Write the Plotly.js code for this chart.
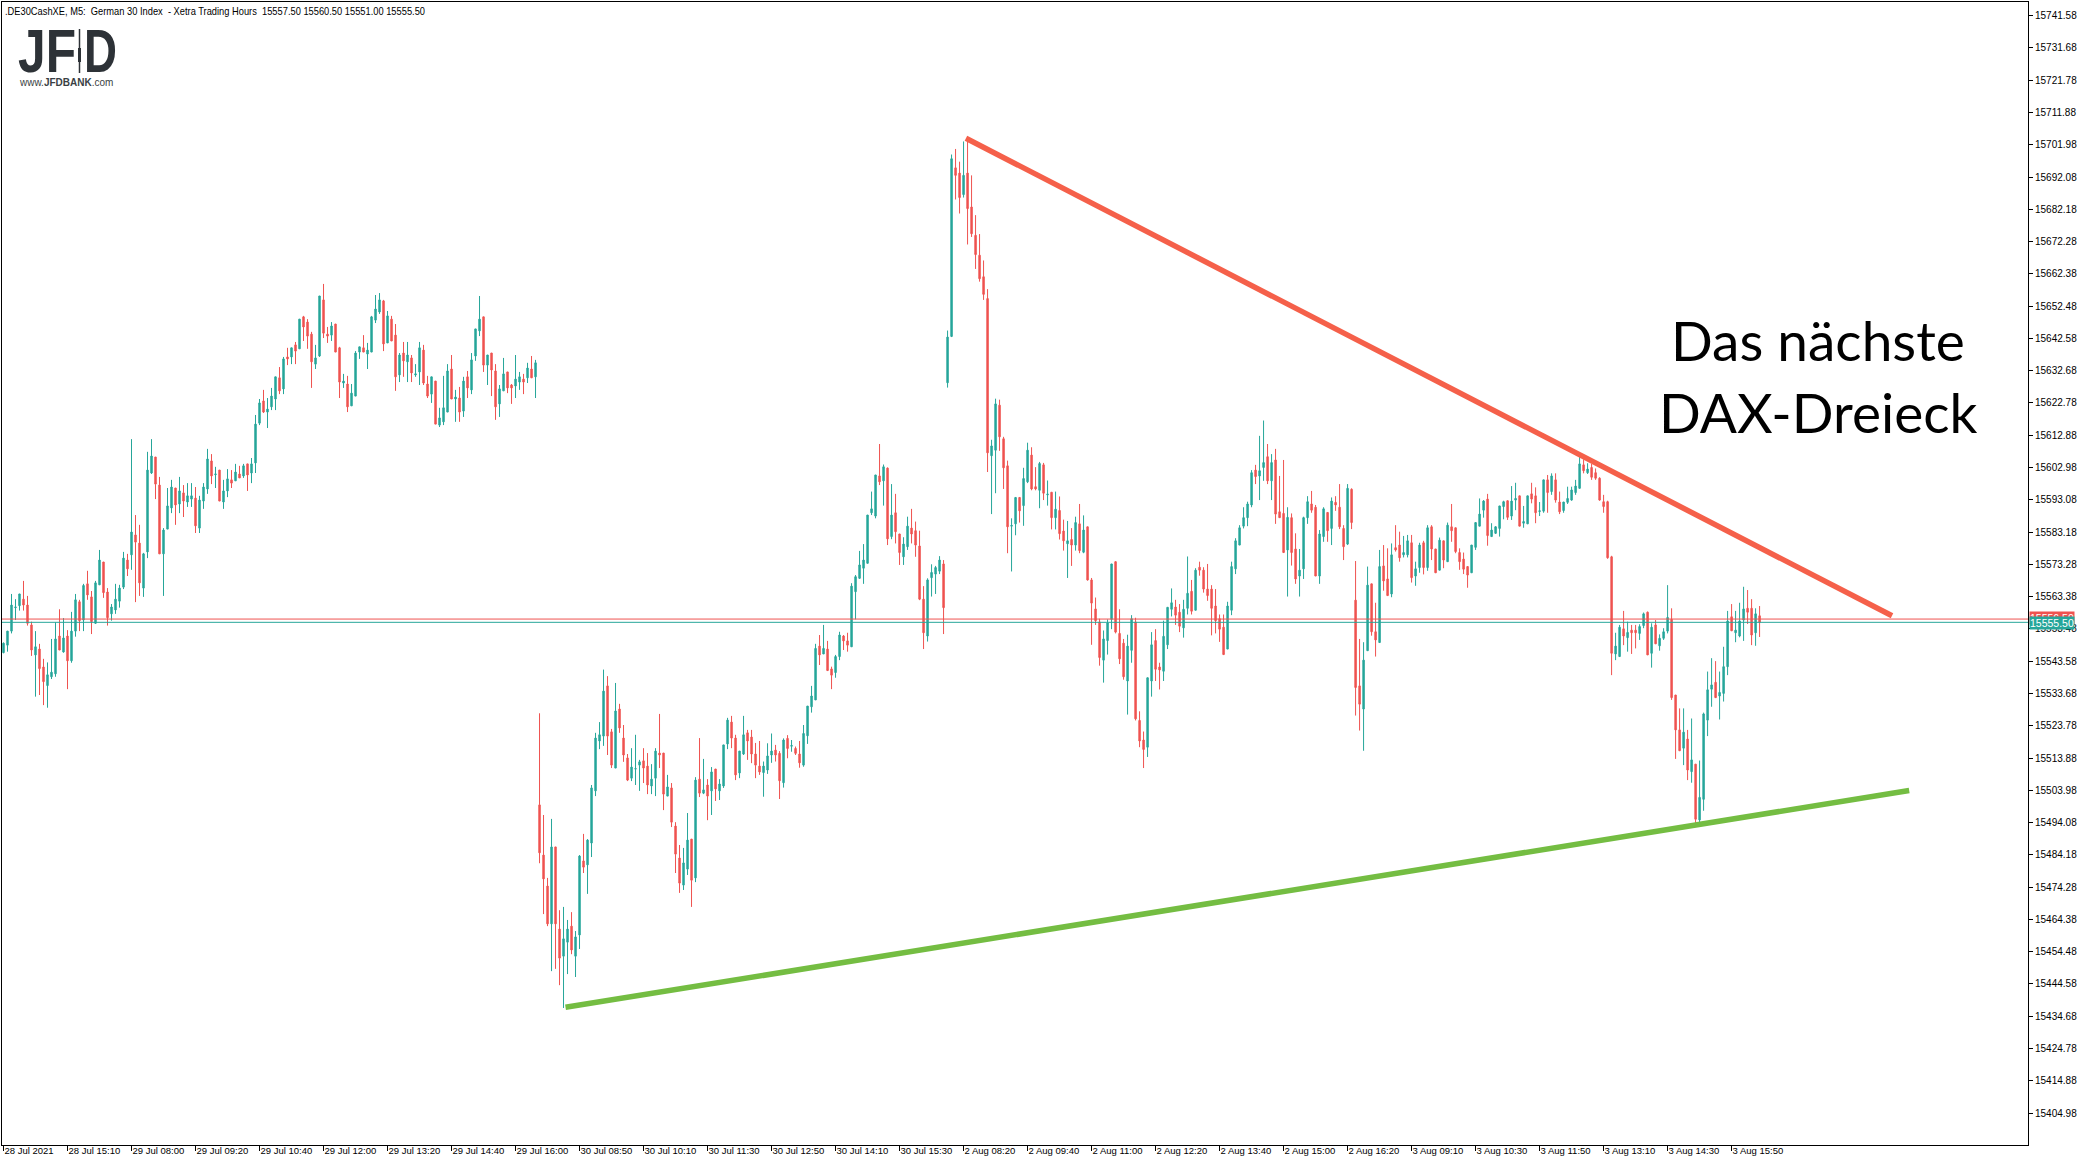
<!DOCTYPE html>
<html>
<head>
<meta charset="utf-8">
<script src="https://cdn.plot.ly/plotly-3.0.1.min.js"></script>
<style>
html,body{margin:0;padding:0;background:#ffffff;}
#chart{width:2085px;height:1162px;}
</style>
</head>
<body>
<div id="chart"></div>
<script>
// ---------------- DATA (5-minute bars, .DE30CashXE M5, 28 Jul 13:50 – 3 Aug 16:25) ----------------
const openP = [
15546.2,15548.5,15552.8,15560.0,15560.6,15562.6,15560.8,15554.7,15545.5,15547.3,
15541.8,15536.1,15538.8,15539.7,15551.3,15546.4,15551.3,15543.7,15552.8,15561.8,
15556.2,15567.3,15563.3,15555.2,15567.0,15574.0,15564.8,15558.1,15559.3,15562.0,
15566.3,15574.6,15576.2,15582.3,15579.8,15566.0,15577.1,15601.3,15606.2,15597.6,
15576.5,15584.1,15590.6,15596.7,15591.8,15595.2,15592.4,15593.3,15593.6,15584.4,
15592.7,15596.4,15605.0,15600.8,15602.2,15592.4,15595.8,15599.2,15598.9,15601.0,
15600.4,15604.1,15601.3,15604.4,15616.6,15623.4,15620.0,15621.6,15624.0,15630.5,
15627.1,15636.9,15636.9,15640.6,15639.4,15649.2,15647.6,15643.9,15634.7,15637.2,
15654.4,15643.9,15643.6,15647.0,15639.7,15628.9,15628.6,15621.9,15624.9,15638.4,
15639.7,15637.8,15638.4,15648.2,15650.7,15654.1,15641.2,15648.5,15643.6,15631.4,
15638.1,15635.4,15636.6,15631.4,15632.3,15639.0,15628.6,15625.5,15629.5,15616.0,
15617.0,15620.0,15633.2,15624.0,15624.3,15620.3,15630.8,15626.8,15637.2,15644.9,
15649.2,15634.4,15638.1,15632.6,15622.5,15626.5,15632.3,15628.3,15628.0,15629.2,
15630.1,15630.5,15633.2,15630.8,
15499.5,15484.1,15474.6,15463.0,15486.6,15461.4,15453.1,15457.4,15462.3,15453.1,
15459.6,15482.3,15481.1,15487.8,15503.8,15519.1,15520.6,15536.0,15521.9,15510.8,
15528.9,15520.0,15513.9,15507.7,15510.5,15511.7,15513.0,15511.4,15505.3,15507.7,
15515.4,15515.4,15502.2,15504.7,15493.0,15483.2,15474.9,15479.8,15489.0,15477.1,
15507.4,15503.1,15505.6,15503.8,15510.5,15503.8,15505.3,15518.2,15524.9,15520.0,
15509.3,15515.1,15521.6,15520.3,15515.1,15511.4,
15509.4,15510.2,15514.8,15516.3,15515.3,15506.3,15519.9,15517.5,15516.8,15515.1,
15511.7,15520.7,15529.6,15531.7,15548.2,15545.8,15547.3,15541.2,15540.1,15545.0,
15551.3,15549.8,15548.0,15564.9,15569.0,15572.1,15573.6,15589.1,15588.1,15600.4,
15598.9,15602.8,15581.8,15589.1,15582.6,15575.6,15578.7,15584.4,15583.6,15578.9,
15562.6,15551.3,15569.2,15570.3,15571.2,15573.4,
15629.0,15643.2,15694.9,15693.3,15686.7,15693.3,15682.9,15674.2,15668.1,15661.5,
15654.8,15606.6,15608.3,15622.1,15611.8,15603.5,15585.0,15585.7,15593.8,15591.3,
15598.6,15606.8,15597.1,15596.0,15603.8,15594.6,15595.4,15587.6,15589.8,15583.5,
15579.6,15580.9,15579.2,15585.7,15577.0,15584.8,15568.5,15559.6,15555.6,15543.9,
15549.9,15556.4,15574.1,15552.1,15549.1,15537.5,15546.9,15555.6,15525.4,15519.4,
15517.2,15537.5,15549.9,15541.8,15540.5,15548.6,15559.5,15560.2,15558.6,15553.8,
15559.8,15565.0,15559.2,15572.4,15571.5,15565.7,15565.7,15560.5,15556.6,15554.0,
15547.3,15559.2,
15571.9,15579.2,15585.0,15587.6,15591.5,15602.2,15600.4,15603.0,15606.3,15598.9,
15605.3,15589.4,15588.9,15577.7,15587.6,15578.0,15569.7,15571.9,15587.6,15591.8,
15590.8,15569.7,15581.8,15589.2,15584.3,15592.3,15590.8,15584.3,15579.5,15596.3,
15562.3,15536.0,15528.9,15546.8,15567.3,15552.6,15549.3,15572.8,15568.8,15564.2,
15578.4,15579.2,15576.2,15576.2,15579.9,15569.7,15572.3,15579.9,15572.3,15584.8,
15578.0,15571.5,15580.5,15574.1,15584.8,15584.5,15576.9,15574.9,15572.6,15570.7,
15578.5,15585.0,15589.9,15593.3,15581.8,15582.8,15584.3,
15591.0,15592.8,15588.1,15593.0,15594.3,15585.9,15585.7,15594.9,15594.3,15589.5,
15589.6,15599.2,15595.6,15599.2,15592.4,15589.8,15592.3,15593.0,15595.3,15596.6,
15603.8,15601.4,15603.0,15601.4,15599.7,15592.5,15592.5,15575.6,15545.8,15545.0,
15553.5,15550.8,15553.1,15553.1,15552.1,15554.5,15558.6,15546.0,15554.7,15548.3,
15550.6,15552.8,15556.4,15533.2,15522.5,15516.9,15519.7,15509.7,15512.0,15494.9,
15501.2,15525.5,15535.0,15537.1,15532.9,15533.7,15541.9,15557.2,15552.3,15551.3,
15556.2,15559.8,15559.8,15552.3,15557.5
];
const highP = [
15549.3,15552.8,15564.2,15562.6,15564.2,15568.2,15563.6,15555.7,15552.8,15548.9,
15544.3,15543.2,15550.4,15555.5,15559.5,15556.8,15553.1,15558.7,15564.2,15562.4,
15567.3,15571.3,15565.1,15568.2,15577.7,15574.0,15566.0,15561.1,15567.3,15567.0,
15577.1,15576.5,15611.7,15588.4,15585.4,15576.8,15607.8,15611.7,15606.2,15600.1,
15584.4,15596.7,15599.2,15596.7,15600.1,15597.6,15598.2,15598.2,15597.0,15594.3,
15598.2,15608.7,15607.1,15603.2,15602.2,15599.2,15602.5,15602.2,15604.1,15603.5,
15604.1,15604.1,15605.9,15619.1,15624.0,15626.8,15624.3,15627.4,15630.8,15633.8,
15636.9,15639.7,15639.7,15641.5,15648.5,15649.5,15648.5,15644.6,15640.6,15655.6,
15659.3,15646.1,15647.6,15647.0,15640.0,15631.7,15631.1,15628.6,15638.7,15640.0,
15643.6,15641.2,15649.5,15655.9,15656.5,15654.4,15651.0,15649.5,15647.0,15638.1,
15641.5,15641.5,15637.5,15634.7,15641.5,15640.6,15631.1,15630.8,15629.5,15621.3,
15631.1,15634.7,15637.5,15626.8,15627.7,15630.8,15632.6,15638.1,15645.5,15655.6,
15649.2,15637.5,15638.1,15634.7,15628.3,15636.6,15632.3,15628.6,15637.5,15632.3,
15631.7,15635.1,15637.2,15636.0,
15527.6,15496.4,15477.1,15495.2,15486.6,15467.2,15468.2,15464.2,15466.6,15460.8,
15484.1,15490.6,15489.0,15505.6,15521.6,15524.9,15541.0,15539.0,15522.8,15536.9,
15530.5,15524.0,15515.1,15516.9,15521.0,15513.3,15516.9,15515.4,15512.0,15516.9,
15527.4,15515.4,15508.7,15506.2,15494.2,15487.2,15486.3,15497.0,15489.0,15508.0,
15520.0,15513.6,15507.4,15511.1,15510.5,15507.4,15517.9,15526.2,15526.8,15521.0,
15516.0,15526.8,15522.5,15522.5,15518.5,15519.1,
15512.8,15518.4,15521.4,15517.9,15516.0,15519.9,15520.9,15519.4,15517.4,15519.1,
15524.0,15529.8,15536.0,15548.9,15551.6,15554.7,15549.8,15541.9,15545.5,15552.6,
15551.6,15552.3,15567.5,15570.0,15577.4,15579.5,15588.4,15595.6,15600.7,15610.2,
15603.9,15603.0,15597.9,15594.9,15582.6,15581.6,15587.9,15590.3,15586.4,15583.6,
15566.6,15569.0,15573.3,15572.8,15575.8,15574.6,
15645.0,15699.0,15700.7,15696.8,15703.0,15704.2,15692.6,15680.4,15674.6,15666.5,
15657.7,15611.5,15624.1,15623.8,15612.4,15605.1,15587.4,15593.8,15593.8,15602.9,
15610.6,15609.2,15603.1,15604.7,15604.4,15599.0,15595.4,15595.6,15594.1,15587.0,
15586.6,15584.4,15587.9,15591.8,15588.3,15584.8,15569.1,15563.1,15556.6,15553.0,
15556.4,15573.4,15574.1,15559.5,15550.4,15551.7,15557.7,15556.9,15528.2,15522.0,
15538.5,15552.5,15553.4,15543.1,15556.0,15560.1,15565.9,15562.4,15561.1,15562.4,
15575.7,15568.5,15572.1,15574.1,15572.4,15573.4,15566.9,15565.7,15557.9,15557.9,
15561.8,15574.1,
15581.3,15585.3,15590.8,15592.5,15602.2,15603.8,15612.7,15617.4,15610.2,15607.1,
15608.7,15600.4,15605.3,15590.8,15588.9,15582.8,15578.0,15587.9,15594.2,15595.8,
15591.5,15583.8,15590.8,15589.2,15593.8,15594.2,15597.9,15585.3,15597.9,15596.6,
15574.3,15550.4,15549.4,15572.6,15567.3,15561.5,15577.7,15579.2,15578.2,15579.7,
15585.3,15583.3,15582.0,15582.3,15582.3,15574.1,15579.9,15580.5,15585.3,15585.3,
15578.0,15581.5,15580.5,15586.1,15591.8,15584.5,15578.2,15576.9,15572.6,15579.2,
15586.1,15593.5,15593.0,15594.9,15585.9,15585.0,15591.2,
15592.8,15592.8,15597.3,15598.3,15594.3,15591.2,15594.3,15598.3,15596.9,15592.4,
15599.2,15600.7,15601.2,15601.2,15595.6,15592.4,15597.1,15597.1,15599.2,15606.3,
15605.5,15604.3,15604.1,15602.7,15600.0,15594.6,15592.8,15575.9,15552.3,15554.7,
15559.0,15555.7,15554.7,15554.7,15554.9,15558.5,15558.8,15555.2,15556.2,15551.8,
15553.7,15566.9,15559.8,15533.2,15529.1,15529.1,15522.5,15526.0,15512.0,15513.1,
15527.8,15540.4,15544.5,15543.6,15540.4,15548.0,15559.0,15561.1,15559.0,15561.5,
15566.4,15565.4,15562.6,15559.8,15560.5
];
const lowP = [
15546.0,15546.5,15552.1,15556.2,15559.1,15559.1,15554.5,15545.2,15532.7,15533.2,
15530.1,15529.3,15538.1,15538.8,15547.0,15546.2,15535.0,15543.1,15551.1,15552.8,
15552.8,15562.4,15551.9,15555.0,15567.0,15563.0,15554.5,15556.0,15558.1,15560.0,
15565.7,15569.7,15571.6,15561.7,15563.6,15563.3,15575.2,15601.0,15593.3,15576.5,
15563.6,15584.1,15589.0,15585.4,15589.0,15587.8,15590.9,15590.9,15582.9,15582.9,
15590.3,15594.9,15597.9,15596.7,15592.7,15590.3,15593.9,15596.7,15598.9,15599.8,
15599.8,15595.8,15598.2,15601.3,15616.0,15619.7,15615.1,15620.6,15620.6,15625.5,
15625.5,15634.4,15634.7,15634.7,15639.4,15641.8,15639.4,15627.4,15633.2,15636.9,
15642.7,15641.2,15641.8,15638.4,15624.3,15627.4,15620.0,15621.9,15624.9,15636.3,
15638.4,15633.2,15638.4,15647.3,15650.1,15638.7,15641.2,15641.8,15626.5,15629.2,
15630.8,15629.2,15629.2,15630.8,15628.3,15628.3,15624.3,15622.8,15616.3,15615.4,
15616.0,15620.0,15624.0,15617.0,15617.0,15618.5,15624.3,15625.5,15635.7,15643.3,
15632.3,15628.3,15624.9,15617.6,15618.5,15626.5,15625.8,15622.5,15624.3,15626.8,
15625.5,15628.9,15630.5,15624.3,
15481.6,15466.0,15462.3,15448.5,15449.2,15444.2,15437.2,15447.6,15453.7,15446.7,
15455.3,15478.6,15472.2,15483.5,15502.2,15516.6,15517.6,15514.8,15510.8,15510.8,
15521.6,15512.7,15506.8,15506.8,15505.6,15503.8,15506.2,15502.8,15502.8,15502.2,
15510.8,15497.9,15502.2,15492.7,15478.6,15472.5,15473.4,15478.0,15468.2,15475.8,
15501.9,15502.8,15494.8,15496.4,15500.7,15501.0,15504.7,15516.6,15516.9,15507.1,
15507.7,15514.8,15513.3,15512.3,15507.7,15508.7,
15502.0,15509.0,15512.4,15512.8,15501.3,15504.8,15513.8,15515.8,15514.8,15510.9,
15511.2,15518.2,15527.8,15531.7,15542.4,15545.8,15540.7,15535.0,15538.5,15543.9,
15547.0,15546.5,15548.0,15556.4,15568.8,15567.3,15573.6,15588.4,15587.4,15597.6,
15591.3,15579.2,15581.0,15579.7,15573.1,15573.1,15577.7,15579.7,15575.6,15562.3,
15547.3,15549.6,15563.4,15564.2,15570.3,15551.9,
15627.5,15643.0,15685.2,15680.9,15685.8,15671.4,15673.7,15663.9,15660.0,15654.4,
15601.6,15588.7,15595.1,15608.1,15596.4,15576.7,15571.1,15582.2,15586.1,15585.1,
15598.2,15596.0,15596.0,15590.5,15593.0,15591.3,15584.0,15584.0,15580.9,15577.5,
15569.1,15572.8,15577.5,15576.7,15576.7,15568.3,15548.6,15554.7,15542.2,15537.0,
15545.6,15553.4,15552.1,15542.7,15537.9,15527.2,15543.1,15525.4,15517.2,15510.8,
15514.2,15532.7,15537.5,15534.9,15537.5,15547.3,15557.3,15554.7,15552.5,15550.8,
15557.9,15557.9,15559.2,15569.8,15564.6,15562.1,15551.5,15552.1,15549.5,15545.6,
15547.3,15557.7,
15570.3,15579.2,15584.3,15585.0,15590.8,15597.9,15593.0,15598.9,15597.9,15593.0,
15585.7,15587.6,15576.9,15563.4,15572.9,15567.3,15563.4,15568.8,15585.7,15589.1,
15569.7,15567.3,15580.2,15580.2,15579.2,15589.7,15584.1,15574.6,15579.2,15584.1,
15526.9,15522.3,15516.1,15546.8,15551.4,15545.0,15549.3,15565.2,15563.7,15563.2,
15577.2,15574.1,15575.4,15575.4,15567.7,15566.7,15570.7,15570.2,15571.3,15574.6,
15570.7,15571.5,15572.1,15574.1,15580.2,15576.7,15571.6,15570.3,15566.1,15570.7,
15577.7,15585.0,15587.6,15579.0,15581.8,15582.6,15581.8,
15587.1,15586.9,15586.9,15589.9,15585.0,15584.5,15585.7,15592.0,15585.9,15588.1,
15589.1,15589.1,15594.6,15592.2,15588.7,15589.1,15591.8,15592.8,15594.6,15596.6,
15601.2,15601.0,15599.2,15599.2,15592.8,15589.1,15575.0,15539.3,15543.9,15545.0,
15548.5,15546.5,15545.8,15547.5,15550.1,15553.7,15545.5,15541.6,15548.9,15546.8,
15550.1,15552.1,15531.7,15513.6,15516.1,15511.7,15507.1,15506.3,15493.3,15493.8,
15497.7,15520.6,15529.6,15532.4,15525.7,15531.2,15539.3,15552.9,15549.4,15550.9,
15549.8,15555.0,15548.5,15548.3,15551.0
];
const closeP = [
15549.1,15552.8,15560.8,15560.2,15564.2,15560.8,15555.2,15547.0,15548.0,15541.3,
15537.3,15539.4,15540.2,15550.4,15547.0,15550.7,15543.7,15552.8,15562.4,15556.0,
15566.8,15563.9,15555.7,15567.6,15574.6,15564.6,15556.9,15560.2,15562.6,15566.0,
15575.2,15571.9,15583.2,15580.1,15567.6,15576.5,15602.2,15606.5,15597.9,15576.5,
15583.8,15591.2,15597.0,15591.5,15595.8,15592.7,15594.3,15594.3,15585.1,15593.0,
15597.0,15605.6,15600.4,15601.0,15592.7,15595.8,15599.5,15598.2,15601.6,15599.8,
15603.5,15600.7,15604.1,15616.3,15622.8,15620.0,15620.9,15624.9,15630.8,15626.5,
15636.3,15636.3,15639.7,15638.7,15648.5,15646.1,15643.3,15635.4,15636.6,15655.6,
15644.2,15643.3,15646.4,15638.4,15629.2,15629.5,15621.6,15625.8,15638.1,15640.0,
15638.4,15639.0,15649.2,15651.6,15654.4,15640.9,15649.5,15641.8,15630.8,15637.5,
15635.7,15637.5,15632.0,15631.7,15639.7,15628.9,15624.9,15630.8,15616.3,15618.2,
15621.3,15632.6,15624.0,15624.6,15620.0,15629.5,15627.4,15636.0,15645.5,15648.5,
15634.4,15637.5,15632.9,15621.6,15627.1,15631.7,15627.4,15627.4,15630.1,15630.8,
15629.2,15633.5,15630.5,15635.1,
15484.8,15476.8,15463.0,15486.6,15463.0,15452.5,15458.4,15461.4,15455.0,15459.0,
15483.8,15480.4,15488.7,15504.7,15520.0,15521.0,15534.4,15520.6,15511.7,15528.3,
15523.1,15514.8,15507.1,15511.1,15510.6,15512.7,15510.8,15505.6,15507.4,15516.0,
15514.8,15502.8,15505.0,15494.2,15484.4,15475.5,15481.7,15488.7,15476.4,15507.1,
15503.1,15504.1,15502.2,15509.6,15504.4,15505.9,15517.9,15525.5,15520.0,15508.7,
15516.0,15521.0,15519.1,15515.1,15511.7,15509.6,
15511.4,15514.5,15516.0,15514.8,15506.9,15519.4,15516.8,15517.7,15515.3,15512.4,
15521.4,15529.8,15532.9,15547.5,15545.5,15547.5,15540.7,15539.3,15545.0,15551.6,
15549.8,15548.5,15566.6,15569.5,15573.1,15574.6,15588.4,15590.3,15600.7,15598.6,
15603.2,15581.1,15588.4,15583.3,15576.9,15579.5,15585.0,15582.6,15579.2,15562.6,
15552.3,15568.5,15570.8,15572.3,15574.6,15560.0,
15643.0,15697.7,15692.6,15685.8,15692.6,15682.4,15674.7,15668.3,15660.9,15656.1,
15607.5,15609.6,15622.5,15612.4,15602.9,15584.8,15585.2,15593.8,15589.7,15599.6,
15608.3,15596.4,15596.4,15604.2,15595.1,15594.8,15587.6,15590.2,15582.7,15580.5,
15580.5,15579.2,15586.1,15577.5,15583.8,15568.5,15561.4,15556.0,15544.7,15550.4,
15555.3,15573.4,15552.5,15544.3,15538.8,15548.2,15556.6,15525.9,15519.1,15516.5,
15538.5,15548.6,15541.1,15540.9,15551.2,15560.1,15561.5,15557.7,15554.3,15559.5,
15564.4,15558.9,15571.5,15571.5,15565.7,15563.7,15559.8,15556.0,15553.4,15545.6,
15560.5,15572.6,
15580.5,15584.5,15587.6,15591.8,15601.4,15600.2,15602.0,15604.5,15598.9,15604.5,
15588.7,15587.6,15576.9,15587.7,15576.9,15568.8,15571.5,15587.6,15592.5,15589.9,
15569.7,15582.6,15590.3,15583.6,15592.7,15591.5,15584.8,15578.7,15596.6,15586.1,
15535.5,15530.4,15543.9,15566.9,15552.6,15550.1,15572.6,15568.2,15563.7,15576.2,
15577.7,15575.3,15576.9,15580.5,15569.2,15571.9,15579.2,15572.3,15584.5,15578.0,
15570.7,15580.7,15574.6,15585.3,15583.6,15577.2,15574.1,15571.8,15570.0,15579.2,
15586.1,15588.7,15592.7,15582.1,15583.8,15584.8,15591.2,
15592.5,15587.7,15592.7,15593.5,15585.0,15586.4,15594.3,15593.3,15589.1,15589.7,
15599.2,15595.3,15600.4,15593.0,15589.4,15592.4,15593.5,15596.1,15597.3,15604.1,
15602.0,15602.5,15600.0,15599.7,15593.0,15591.0,15575.3,15546.0,15548.2,15554.0,
15551.3,15552.4,15552.3,15552.3,15554.2,15558.1,15545.5,15554.0,15548.9,15550.6,
15552.6,15557.0,15532.4,15522.5,15516.1,15521.8,15510.2,15513.3,15495.1,15501.8,
15527.4,15534.8,15536.3,15532.4,15534.0,15541.9,15555.9,15552.9,15553.1,15555.9,
15559.6,15558.6,15551.6,15558.1,15555.5
];

// time-axis labels (every 16 bars) and price-axis labels
const xTickBars = [0,16,32,48,64,80,96,112,128,144,160,176,192,208,224,240,256,272,288,304,320,336,352,368,384,400,416,432];
const xTickLabels = ["28 Jul 2021","28 Jul 15:10","29 Jul 08:00","29 Jul 09:20","29 Jul 10:40","29 Jul 12:00","29 Jul 13:20","29 Jul 14:40","29 Jul 16:00","30 Jul 08:50","30 Jul 10:10","30 Jul 11:30","30 Jul 12:50","30 Jul 14:10","30 Jul 15:30","2 Aug 08:20","2 Aug 09:40","2 Aug 11:00","2 Aug 12:20","2 Aug 13:40","2 Aug 15:00","2 Aug 16:20","3 Aug 09:10","3 Aug 10:30","3 Aug 11:50","3 Aug 13:10","3 Aug 14:30","3 Aug 15:50"];
const yTickVals = [15404.98,15414.88,15424.78,15434.68,15444.58,15454.48,15464.38,15474.28,15484.18,15494.08,15503.98,15513.88,15523.78,15533.68,15543.58,15553.48,15563.38,15573.28,15583.18,15593.08,15602.98,15612.88,15622.78,15632.68,15642.58,15652.48,15662.38,15672.28,15682.18,15692.08,15701.98,15711.88,15721.78,15731.68,15741.58];

// bid / ask price and the two trend lines (bar index, price)
const bidPrice = 15555.50;
const askPrice = 15556.50;
const resistBars = [240.6, 472.1];
const resistPrices = [15704.0, 15557.5];
const supportBars = [140.5, 476.4];
const supportPrices = [15437.4, 15503.9];

// ---------------- PLOT ----------------
const W = 2085, H = 1162;
const PL = 2, PR = 2028, PT = 2, PB = 1145;
const px = v => (v - PL) / (PR - PL);
const py = v => (PB - v) / (PB - PT);
const SMALL = 'Liberation Sans, Arial, sans-serif';
const UP = '#26a69a', DOWN = '#ef5350';
const LOGO = '#2d3237';
const n = openP.length;
const barIdx = openP.map((_, i) => i);
const fmt = v => v.toFixed(2);

const traces = [
  {
    type: 'candlestick', x: barIdx, open: openP, high: highP, low: lowP, close: closeP,
    increasing: {line: {color: UP, width: 1}, fillcolor: UP},
    decreasing: {line: {color: DOWN, width: 1}, fillcolor: DOWN},
    whiskerwidth: 0, hoverinfo: 'skip', showlegend: false
  },
  {
    type: 'scatter', mode: 'lines', x: resistBars, y: resistPrices,
    line: {color: '#f5604a', width: 5.5}, hoverinfo: 'skip', showlegend: false
  },
  {
    type: 'scatter', mode: 'lines', x: supportBars, y: supportPrices,
    line: {color: '#74bd42', width: 5.5}, hoverinfo: 'skip', showlegend: false
  }
];

const header = '.DE30CashXE, M5:\u00a0\u00a0German 30 Index\u00a0\u00a0- Xetra Trading Hours\u00a0\u00a0' +
  [openP[n-1], highP[n-1], lowP[n-1], closeP[n-1]].map(fmt).join(' ');

const layout = {
  width: W, height: H,
  margin: {l: PL, r: W - PR, t: PT, b: H - PB, pad: 0},
  paper_bgcolor: '#ffffff', plot_bgcolor: '#ffffff',
  showlegend: false, hovermode: false, dragmode: false,
  boxgap: 0.5,
  xaxis: {
    range: [-0.375, 506.1], type: 'linear',
    tickmode: 'array', tickvals: xTickBars, ticktext: xTickLabels,
    ticks: 'outside', ticklen: 5, tickwidth: 1, tickcolor: '#000',
    ticklabelposition: 'outside right', tickangle: 0, ticklabelstandoff: -3,
    tickfont: {family: SMALL, size: 9.5, color: '#000'},
    showgrid: false, zeroline: false,
    showline: true, linecolor: '#000', linewidth: 1, mirror: true,
    rangeslider: {visible: false}, fixedrange: true
  },
  yaxis: {
    side: 'right', range: [15395.17, 15745.78],
    tickmode: 'array', tickvals: yTickVals, ticktext: yTickVals.map(fmt),
    ticks: 'outside', ticklen: 4, tickwidth: 1, tickcolor: '#000',
    tickfont: {family: SMALL, size: 10, color: '#000'},
    showgrid: false, zeroline: false,
    showline: true, linecolor: '#000', linewidth: 1, mirror: true,
    fixedrange: true
  },
  shapes: [
    {type: 'line', xref: 'paper', x0: 0, x1: 1, yref: 'y', y0: askPrice, y1: askPrice, line: {color: DOWN, width: 1}},
    {type: 'line', xref: 'paper', x0: 0, x1: 1, yref: 'y', y0: bidPrice, y1: bidPrice, line: {color: UP, width: 1}},
    // logo candle mark between F and D
    {type: 'line', xref: 'paper', yref: 'paper', x0: px(79.5), x1: px(79.5), y0: py(29), y1: py(73), line: {color: LOGO, width: 1.5}},
    {type: 'rect', xref: 'paper', yref: 'paper', x0: px(78), x1: px(81), y0: py(48), y1: py(62), fillcolor: LOGO, line: {width: 0}}
  ],
  annotations: [
    {xref: 'paper', yref: 'paper', x: px(3), y: py(3), xanchor: 'left', yanchor: 'top', align: 'left', showarrow: false,
     text: header, font: {family: SMALL, size: 10.5, color: '#000'}},
    {xref: 'paper', yref: 'paper', x: px(16), y: py(51), xanchor: 'left', yanchor: 'middle', align: 'left', showarrow: false,
     height: 46, text: 'JF', font: {family: 'Liberation Sans, sans-serif', size: 61, weight: 700, color: LOGO}},
    {xref: 'paper', yref: 'paper', x: px(82), y: py(51), xanchor: 'left', yanchor: 'middle', align: 'left', showarrow: false,
     height: 46, text: 'D', font: {family: 'Liberation Sans, sans-serif', size: 61, weight: 700, color: LOGO}},
    {xref: 'paper', yref: 'paper', x: px(17), y: py(83), xanchor: 'left', yanchor: 'middle', showarrow: false,
     text: 'www.<b>JFDBANK</b>.com', font: {family: 'Liberation Sans, sans-serif', size: 10, color: '#3a3f44'}},
    {xref: 'paper', yref: 'paper', x: px(1818), y: py(340), xanchor: 'center', yanchor: 'middle', showarrow: false,
     text: 'Das nächste', font: {family: 'Lato, Open Sans, sans-serif', size: 55, color: '#000'}},
    {xref: 'paper', yref: 'paper', x: px(1818), y: py(412), xanchor: 'center', yanchor: 'middle', showarrow: false,
     text: 'DAX-Dreieck', font: {family: 'Lato, Open Sans, sans-serif', size: 55, color: '#000'}},
    {xref: 'paper', yref: 'y', x: 1, y: askPrice, xanchor: 'left', yanchor: 'middle', xshift: 1, yshift: 1, showarrow: false,
     text: fmt(askPrice), bgcolor: DOWN, borderpad: 0, font: {family: SMALL, size: 10.5, color: '#fff'}},
    {xref: 'paper', yref: 'y', x: 1, y: bidPrice, xanchor: 'left', yanchor: 'middle', xshift: 1, yshift: -1, showarrow: false,
     text: fmt(bidPrice), bgcolor: UP, borderpad: 0, font: {family: SMALL, size: 10.5, color: '#fff'}}
  ]
};

Plotly.newPlot('chart', traces, layout, {staticPlot: true, displayModeBar: false}).then(gd => {
  // squeeze the header and the logo letters to the narrow widths seen in the reference
  const fit = (idx, len) => {
    const t = gd.querySelector('.annotation[data-index="' + idx + '"] text.annotation-text');
    if (t) { t.setAttribute('textLength', len); t.setAttribute('lengthAdjust', 'spacingAndGlyphs'); }
  };
  fit(0, 420);
  fit(1, 58);
  fit(2, 33);
});
</script>
</body>
</html>
